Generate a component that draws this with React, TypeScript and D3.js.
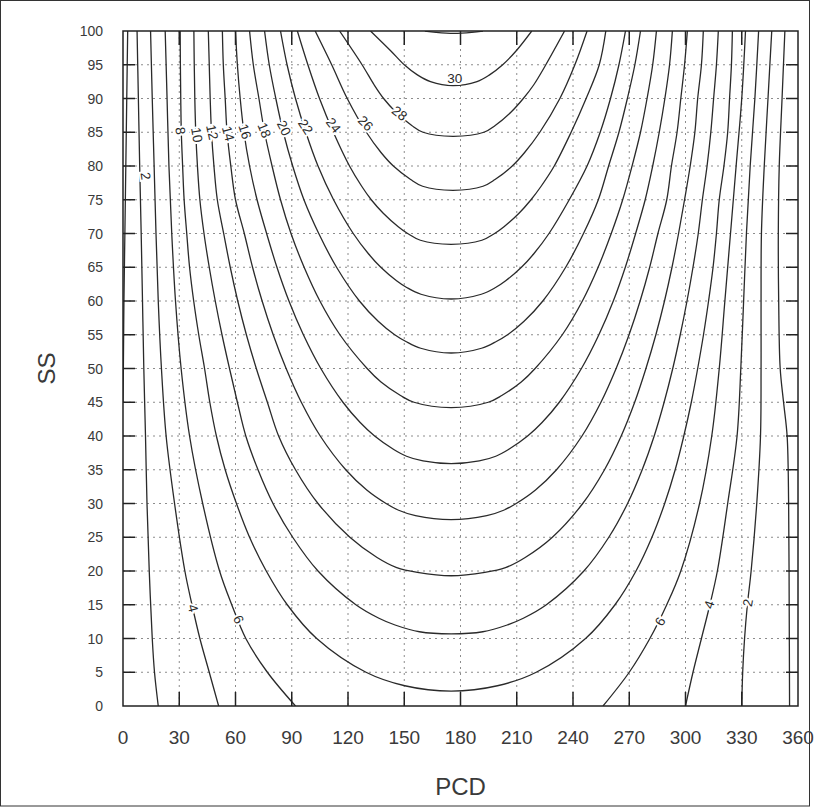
import React from 'react';
import * as d3 from 'd3';

// axis ticks
const pcdTicks = [0, 30, 60, 90, 120, 150, 180, 210, 240, 270, 300, 330, 360];
const ssTicks = [0, 5, 10, 15, 20, 25, 30, 35, 40, 45, 50, 55, 60, 65, 70, 75, 80, 85, 90, 95, 100];

// side contours: [SS, PCD]
const zeroLeft = [[100, 2.5], [90, 2], [80, 1.5], [70, 1], [60, 0.5], [50, 0.2], [45, 0]];
const zeroRight = [[100, 353], [90, 351.5], [80, 350], [70, 349.5], [60, 349.7], [50, 350.5], [45, 352.3], [40, 354.2], [30, 355], [15, 355.3], [0, 355.5]];
const c2Left = [[100, 7.5], [90, 8.2], [80, 8.9], [70, 9.7], [60, 10.4], [50, 11.1], [40, 12], [30, 12.8], [20, 14], [10, 15.6], [5, 16.8], [0, 18.8]];
const c4Left = [[100, 14.7], [90, 15.6], [80, 16.6], [70, 17.6], [60, 18.8], [50, 20.5], [40, 23], [30, 27.5], [20, 33], [15, 36.8], [10, 41], [5, 46], [0, 51]];
const c6Left = [[100, 22.5], [90, 23.5], [80, 24.5], [70, 26], [60, 28], [50, 31], [40, 35.5], [30, 42.5], [20, 51.5], [15, 58], [10, 65.5], [5, 77], [0, 92]];
const c2Right = [[100, 346], [90, 344], [80, 342], [70, 340.5], [60, 340.3], [50, 340.3], [40, 340], [30, 338], [20, 335], [15, 333], [10, 331.5], [5, 330.5], [0, 330]];
const c4Right = [[100, 339], [90, 337], [80, 334.5], [70, 332.5], [60, 331], [50, 329.5], [40, 327.5], [30, 322.5], [20, 317], [15, 313], [10, 308.5], [5, 304], [0, 300]];
const c6Right = [[100, 332], [90, 330], [80, 327], [70, 324], [60, 321], [50, 318], [40, 314], [30, 307.5], [20, 297.5], [15, 290], [10, 281], [5, 270], [0, 256]];

// U-shaped contours: [SS, left PCD, right PCD]
const u8 = [[100, 30.5, 325], [95, 30.6, 324.5], [90, 30.8, 323.5], [85, 31.1, 322.5], [80, 31.8, 320.5], [75, 32.6, 318], [70, 34, 316.5], [65, 35.5, 314.7], [60, 37.7, 312.3], [55, 40.4, 309.6], [50, 43.5, 306.5], [45, 46.3, 303.1], [40, 49.8, 299.1], [35, 54.5, 294.5], [30, 60.5, 288.9], [25, 67.5, 282.1], [20, 76.4, 273.6], [15, 87.6, 262.4], [10, 103.3, 246.7], [5, 129.6, 220.4], [3, 150.3, 199.7]];
const u10 = [[100, 37.8, 317.5], [95, 38, 316.5], [90, 38.3, 315], [85, 38.8, 313.5], [80, 39.7, 311.5], [75, 41, 309], [70, 43.2, 306.8], [65, 46, 304], [60, 49.2, 300.8], [55, 52.8, 297.2], [50, 56.8, 293.2], [45, 61, 288.6], [40, 65.5, 283.3], [35, 72, 276.9], [30, 80, 269.1], [25, 90.5, 259.1], [20, 104, 245.8], [15, 124.2, 225.8], [13, 136.5, 213.5], [12, 145.1, 204.9], [11, 158.1, 191.9]];
const u12 = [[100, 45.5, 309.5], [95, 46, 308.5], [90, 46.5, 306.5], [85, 47.2, 305], [80, 48.5, 302.5], [75, 50.3, 299.5], [70, 53.7, 296.3], [65, 57.2, 292.8], [60, 61.2, 288.8], [55, 65.8, 284.2], [50, 71.1, 278.9], [45, 77, 272.9], [40, 83, 265.7], [35, 92, 256.8], [30, 104, 245.2], [25, 121, 229], [22, 135.5, 214.5], [20.5, 146, 204], [19.8, 157, 193]];
const u14 = [[100, 53, 301], [95, 53.5, 299.5], [90, 54.5, 297.5], [85, 55.5, 295.5], [80, 57.5, 292.5], [75, 60, 290], [70, 64.7, 285.3], [65, 69.1, 280.9], [60, 74.2, 275.8], [55, 80.1, 269.9], [50, 87, 263], [45, 95.1, 254.9], [40, 105.2, 244.8], [35, 118.8, 231.2], [32, 130, 220], [30, 140.3, 209.7], [29, 147, 203], [28.2, 156, 194]];
const u16 = [[100, 60, 293], [95, 61, 291.5], [90, 62.5, 289], [85, 64.5, 286], [80, 67.5, 282.5], [75, 71.5, 278.5], [70, 76.6, 273.4], [65, 82.1, 267.9], [60, 88.5, 261.5], [55, 96.2, 253.8], [50, 105.5, 244.5], [45, 117.3, 232.7], [42, 126.5, 223.5], [40, 134.2, 215.8], [38, 144.4, 205.6], [37, 151.2, 198.8], [36.3, 160, 190]];
const u18 = [[100, 67.5, 284.5], [95, 69.5, 282.5], [90, 72.5, 279.5], [85, 75.5, 276], [80, 79.5, 271.5], [75, 84, 266.5], [70, 89.6, 260.4], [65, 96.6, 253.4], [60, 105, 245], [55, 115.7, 234.3], [50, 130.2, 219.8], [48, 137.6, 212.4], [46, 148, 202], [45, 155.2, 194.8]];
const u20 = [[100, 75.5, 276], [95, 78, 273], [90, 81.5, 269], [85, 85.5, 264.5], [80, 90.5, 259], [75, 96.5, 253.5], [70, 104.4, 245.6], [65, 113.9, 236.1], [60, 126.1, 223.9], [57, 136.1, 213.9], [55, 144.9, 205.1], [54, 150.9, 199.1], [53, 158.8, 191.2]];
const u22 = [[100, 84, 268], [95, 87.5, 264.5], [90, 92, 260], [85, 97.5, 254.5], [80, 104, 247.5], [75, 112.3, 238], [70, 122.8, 227.2], [67, 130.9, 219.1], [65, 137.5, 212.5], [63, 145.9, 204.1], [62, 151.3, 198.7], [61, 158.9, 191.1]];
const u24 = [[100, 93, 257.5], [95, 98.6, 254], [90, 104.8, 247], [85, 112.2, 239], [80, 120.8, 230], [77, 127.3, 223], [75, 132.4, 217.6], [73, 138.8, 211.2], [71, 146.8, 203.2], [70, 151.8, 198.2], [69, 158.6, 191.4]];
const u26 = [[100, 102.5, 247.5], [95, 111.3, 241], [90, 119.6, 233], [85, 129.8, 222.3], [82, 137.6, 214.2], [80, 144.2, 207.6], [78, 153.4, 198.4], [77, 159.8, 192]];
const u28 = [[100, 115.5, 235.5], [95, 127.5, 225.5], [92, 134, 219], [90, 139, 213.5], [88, 145.5, 207], [86, 154, 198.5], [85, 160, 192.5]];
const u30 = [[100, 132, 218], [97, 143, 209.5], [95, 150, 202.5], [93.5, 157, 195.5], [92.5, 164, 188.8]];
const u32 = [[100, 161, 192], [99.8, 167, 186]];

const uRows = [u8, u10, u12, u14, u16, u18, u20, u22, u24, u26, u28, u30, u32];
const uBottomSS = [2.2, 10.7, 19.3, 27.6, 35.9, 44.2, 52.3, 60.3, 68.4, 76.4, 84.4, 91.9, 99.65];
const uBottomPCD = [175, 175, 175, 175, 175, 175, 175, 175, 175, 176, 176, 176, 176.5];

// contour labels: text, PCD, SS, rotation
const labelText = ['2', '8', '10', '12', '14', '16', '18', '20', '22', '24', '26', '28', '30', '4', '6', '6', '4', '2'];
const labelPCD = [12, 30.5, 39.3, 47.5, 56, 65, 75.3, 85.8, 97.3, 112.2, 129.3, 147.5, 177, 37.3, 61.5, 286.5, 312.8, 333.3];
const labelSS = [78.5, 85.2, 84.6, 85, 84.8, 85.1, 85.3, 85.6, 85.8, 86, 86.3, 87.8, 92.9, 14.5, 12.8, 12.5, 15, 15.3];
const labelRot = [82, 82, 80, 78, 75, 72, 68, 63, 57, 52, 45, 38, 0, 75, 65, -62, -72, -80];

const W = 817;
const H = 807;
const L = 123;
const R = 798;
const T = 31;
const B = 706;

export default function App() {
  const x = d3.scaleLinear().domain([0, 360]).range([L, R]);
  const y = d3.scaleLinear().domain([0, 100]).range([B, T]);
  const line = d3.line<[number, number]>().curve(d3.curveCatmullRom.alpha(0.5));

  const sidePaths = [zeroLeft, zeroRight, c2Left, c4Left, c6Left, c2Right, c4Right, c6Right].map((arr) =>
    line(arr.map((p) => [x(p[1]), y(p[0])] as [number, number]))
  );

  const uPaths = uRows.map((rows, i) => {
    const leftArm = rows.map((r) => [x(r[1]), y(r[0])] as [number, number]);
    const bottom = [x(uBottomPCD[i]), y(uBottomSS[i])] as [number, number];
    const rightArm = rows.slice().reverse().map((r) => [x(r[2]), y(r[0])] as [number, number]);
    return line([...leftArm, bottom, ...rightArm]);
  });

  const font = "'Liberation Sans', Arial, Helvetica, sans-serif";
  const gridCol = '#8c8c8c';

  return (
    <svg width={W} height={H} style={{ position: 'absolute', left: 0, top: 0, background: '#fff' }}>
      <rect x={0} y={0} width={W} height={H} fill="#fff" />
      <rect x={0.5} y={0.5} width={809} height={805.5} fill="none" stroke="#333" strokeWidth={1} />
      <defs>
        <clipPath id="plotclip">
          <rect x={L} y={T} width={R - L} height={B - T} />
        </clipPath>
      </defs>
      {/* grid */}
      <g stroke={gridCol} strokeWidth={1} strokeDasharray="2,4">
        {ssTicks.filter((t) => t > 0 && t < 100).map((t) => (
          <line key={'h' + t} x1={L} x2={R} y1={y(t)} y2={y(t)} />
        ))}
        {pcdTicks.filter((t) => t > 0 && t < 360).map((t) => (
          <line key={'v' + t} x1={x(t)} x2={x(t)} y1={T} y2={B} />
        ))}
      </g>
      {/* contours */}
      <g clipPath="url(#plotclip)" fill="none" stroke="#2a2a2a" strokeWidth={1.3}>
        {sidePaths.map((d, i) => (
          <path key={'s' + i} d={d || ''} />
        ))}
        {uPaths.map((d, i) => (
          <path key={'u' + i} d={d || ''} />
        ))}
      </g>
      {/* contour labels */}
      <g fontFamily={font} fontSize={13.5} fill="#2a2a2a">
        {labelText.map((t, i) => (
          <text
            key={'l' + i}
            x={0}
            y={0}
            transform={`translate(${x(labelPCD[i])},${y(labelSS[i])}) rotate(${labelRot[i]})`}
            textAnchor="middle"
            dominantBaseline="central"
            stroke="#fff"
            strokeWidth={4}
            paintOrder="stroke"
          >
            {t}
          </text>
        ))}
      </g>
      {/* frame */}
      <rect x={L} y={T} width={R - L} height={B - T} fill="none" stroke="#222" strokeWidth={1.5} />
      {/* ticks */}
      <g stroke="#222" strokeWidth={1.5}>
        {ssTicks.filter((t) => t > 0 && t < 100).map((t) => (
          <g key={'yt' + t}>
            <line x1={L} x2={L + 12} y1={y(t)} y2={y(t)} />
            <line x1={R} x2={R - 12} y1={y(t)} y2={y(t)} />
          </g>
        ))}
        {pcdTicks.filter((t) => t > 0 && t < 360).map((t) => (
          <g key={'xt' + t}>
            <line x1={x(t)} x2={x(t)} y1={B} y2={B - 14} />
            <line x1={x(t)} x2={x(t)} y1={T} y2={T + 14} />
          </g>
        ))}
      </g>
      {/* tick labels */}
      <g fontFamily={font} fill="#3a3a3a">
        {ssTicks.map((t) => (
          <text key={'yl' + t} x={103} y={y(t)} textAnchor="end" dominantBaseline="central" fontSize={14}>
            {t}
          </text>
        ))}
        {pcdTicks.map((t) => (
          <text key={'xl' + t} x={x(t)} y={737} textAnchor="middle" dominantBaseline="central" fontSize={19}>
            {t}
          </text>
        ))}
      </g>
      {/* axis titles */}
      <text
        x={0}
        y={0}
        transform={`translate(46,${(T + B) / 2}) rotate(-90)`}
        textAnchor="middle"
        dominantBaseline="central"
        fontFamily={font}
        fontSize={24}
        fill="#3a3a3a"
      >
        SS
      </text>
      <text x={(L + R) / 2} y={786} textAnchor="middle" dominantBaseline="central" fontFamily={font} fontSize={24} fill="#3a3a3a">
        PCD
      </text>
    </svg>
  );
}
